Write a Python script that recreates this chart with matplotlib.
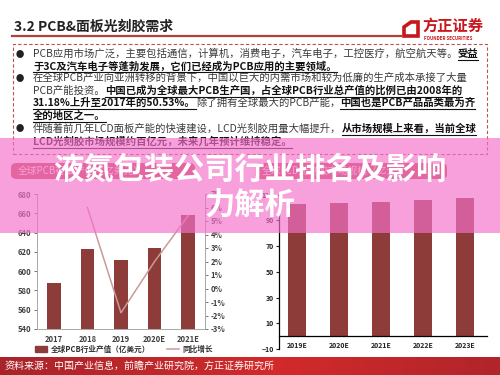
import numpy as np
import matplotlib
matplotlib.use('Agg')
import matplotlib.pyplot as plt
from matplotlib.patches import Rectangle, FancyBboxPatch, Polygon, Patch
from matplotlib.lines import Line2D

plt.rcParams['font.family'] = ['Noto Sans CJK SC', 'DejaVu Sans']

# data
pcb_years = ['2017', '2018', '2019', '2020E', '2021E']
pcb_value = [588, 623, 612, 624, 658]
pcb_growth = [np.nan, 6.0, -1.8, 2.0, 5.4]

lcd_years = ['2019E', '2020E', '2021E', '2022E', '2023E']
lcd_value = [103, 103.7, 104.5, 106, 107.5]

W, H = 500, 375
fig = plt.figure(figsize=(5, 3.75), dpi=100)
fig.patch.set_facecolor('white')
renderer = fig.canvas.get_renderer()

def fx(x):
    return x / W

def fy(y):
    return 1 - y / H

BAR = '#8e3c3a'
LINE = '#c99a98'

# header
fig.text(fx(14), fy(27), '3.2 PCB&面板光刻胶需求', fontsize=10, fontweight='bold',
         color='#222222', va='center')
fig.add_artist(Line2D([fx(12), fx(401)], [fy(35.5)] * 2, color='#b0413e', lw=1.6))
fig.add_artist(Polygon([(fx(411), fy(22)), (fx(418), fy(22)), (fx(418), fy(36)),
                        (fx(404), fy(36)), (fx(404), fy(27))], closed=True,
                       fill=False, edgecolor='#c8161d', lw=2.6))
fig.text(fx(422), fy(26), '方正证券', fontsize=11, fontweight='bold', color='#c8161d', va='center')
fig.text(fx(424), fy(38), 'FOUNDER SECURITIES', fontsize=3.2, fontweight='bold',
         color='#c8161d', va='center')

# dashed box
fig.add_artist(Rectangle((fx(13), fy(154)), fx(487) - fx(13), fy(44) - fy(154),
                         fill=False, edgecolor='#c0504d', lw=0.8, ls=(0, (3, 2))))

lines = [
    (54, True, [('PCB应用市场广泛，主要包括通信，计算机，消费电子，汽车电子，工控医疗，航空航天等。', False),
                ('受益', True)]),
    (66, False, [('于3C及汽车电子等蓬勃发展，它们已经成为PCB应用的主要领域。', True)]),
    (78, True, [('在全球PCB产业向亚洲转移的背景下，中国以巨大的内需市场和较为低廉的生产成本承接了大量', False)]),
    (90.5, False, [('PCB产能投资。', False),
                   ('中国已成为全球最大PCB生产国，占全球PCB行业总产值的比例已由2008年的', True)]),
    (103, False, [('31.18%上升至2017年的50.53%。', True), ('除了拥有全球最大的PCB产能，', False),
                  ('中国也是PCB产品品类最为齐', True)]),
    (115.5, False, [('全的地区之一。', True)]),
    (129, True, [('伴随着前几年LCD面板产能的快速建设，LCD光刻胶用量大幅提升，', False),
                 ('从市场规模上来看，当前全球', True)]),
    (141.5, False, [('LCD光刻胶市场规模约百亿元，未来几年预计维持稳定。', True)]),
]
for y, bullet, segs in lines:
    if bullet:
        fig.text(fx(20), fy(y), '●', fontsize=6, color='#222222', va='center', ha='center')
    x = 33
    for s, bold in segs:
        t = fig.text(fx(x), fy(y), s, fontsize=7.45, va='center', ha='left',
                     fontweight='bold' if bold else 'normal',
                     color='#111111' if bold else '#3a3a3a')
        w = t.get_window_extent(renderer).width
        if bold:
            fig.add_artist(Line2D([fx(x), fx(x + w)], [fy(y + 6)] * 2, color='#111111', lw=0.8))
        x += w

# chart header pills (behind banner)
fig.add_artist(FancyBboxPatch((fx(11), fy(179)), fx(195) - fx(11), fy(163) - fy(179),
                              boxstyle='round,pad=0,rounding_size=0.012',
                              facecolor='#c0504d', edgecolor='none'))
fig.text(fx(18), fy(171), '全球PCB行业产值（亿美元）', fontsize=7, color='white', va='center')
fig.add_artist(FancyBboxPatch((fx(255), fy(179)), fx(447) - fx(255), fy(163) - fy(179),
                              boxstyle='round,pad=0,rounding_size=0.012',
                              facecolor='#c0504d', edgecolor='none'))
fig.text(fx(262), fy(171), '全球LCD光刻胶市场规模（亿元）', fontsize=7, color='white', va='center')

# left chart
ax = fig.add_axes([fx(37), fy(329), fx(205) - fx(37), fy(194) - fy(329)])
xpos = np.arange(len(pcb_years))
ax.bar(xpos, pcb_value, width=0.4, color=BAR, label='全球PCB行业产值（亿美元）')
ax.set_ylim(540, 680)
ax.set_xlim(-0.5, 4.5)
ax.set_yticks(range(540, 681, 20))
ax.set_xticks(xpos)
ax.set_xticklabels(pcb_years)
ax.tick_params(axis='y', labelsize=5.5, colors='#404040', length=2, width=0.5, pad=2)
ax.tick_params(axis='x', labelsize=5.5, colors='#404040', length=0, pad=4)
for lab in ax.get_xticklabels() + ax.get_yticklabels():
    lab.set_fontweight('bold')
ax.spines['top'].set_visible(False)
for s in ['left', 'bottom', 'right']:
    ax.spines[s].set_color('#a8a8a8')
    ax.spines[s].set_linewidth(0.6)

ax2 = ax.twinx()
ax2.plot(xpos, pcb_growth, color=LINE, lw=1.1, label='同比增长')
ax2.set_ylim(-3, 7)
ax2.set_yticks(range(-3, 8))
ax2.set_yticklabels(['%d%%' % v for v in range(-3, 8)])
ax2.tick_params(axis='y', labelsize=5.5, colors='#404040', length=2, width=0.5, pad=2)
for lab in ax2.get_yticklabels():
    lab.set_fontweight('bold')
ax2.spines['top'].set_visible(False)
for s in ['left', 'bottom', 'right']:
    ax2.spines[s].set_color('#a8a8a8')
    ax2.spines[s].set_linewidth(0.6)

h1 = [Patch(color=BAR), Line2D([0], [0], color=LINE, lw=1.1)]
leg = fig.legend(h1, ['全球PCB行业产值（亿美元）', '同比增长'], ncol=2, loc='center',
                 bbox_to_anchor=(fx(124), fy(349)), frameon=False, fontsize=5.5,
                 handlelength=1.6, handleheight=0.7, columnspacing=2.2, handletextpad=0.5)
for t in leg.get_texts():
    t.set_fontweight('bold')
    t.set_color('#333333')

# right chart
bx = fig.add_axes([fx(279), fy(349), fx(487) - fx(279), fy(194.6) - fy(349)])
xpos2 = np.arange(len(lcd_years))
bx.bar(xpos2, lcd_value, width=0.43, color=BAR)
bx.set_ylim(-10, 110)
bx.set_xlim(-0.43, 4.52)
bx.set_yticks(range(-10, 111, 20))
bx.set_xticks(xpos2)
bx.set_xticklabels(lcd_years)
bx.spines['bottom'].set_position(('data', 0))
bx.spines['top'].set_visible(False)
bx.spines['right'].set_visible(False)
bx.spines['left'].set_linewidth(0.9)
bx.spines['bottom'].set_linewidth(0.9)
bx.tick_params(axis='y', labelsize=5, colors='#222222', length=2.5, width=0.8, pad=1)
bx.tick_params(axis='x', labelsize=5, colors='#222222', length=0, pad=4)
for lab in bx.get_xticklabels() + bx.get_yticklabels():
    lab.set_fontweight('bold')

# footer
fax = fig.add_axes([0, 0, 1, fy(357)])
grad = np.linspace(0, 1, 256)
prof = 1 - 0.5 * np.abs(grad - 0.55) * 2
fax.imshow(prof[None, :], aspect='auto', cmap=matplotlib.colors.LinearSegmentedColormap.from_list(
    'r', ['#a8242a', '#d32a2a']), extent=[0, 1, 0, 1])
fax.set_axis_off()
fig.text(fx(5), fy(366), '资料来源：中国产业信息，前瞻产业研究院，方正证券研究所', fontsize=7.2,
         color='white', va='center', zorder=12)

# banner overlay
fig.add_artist(Rectangle((0, fy(233)), 1, fy(138) - fy(233), facecolor='#f671cb',
                         alpha=0.67, edgecolor='none', zorder=10))
fig.text(0.5, fy(170), '液氮包装公司行业排名及影响', fontsize=21.8, fontweight='bold',
         color='white', ha='center', va='center', zorder=11)
fig.text(0.5, fy(206), '力解析', fontsize=21.8, fontweight='bold',
         color='white', ha='center', va='center', zorder=11)

fig.savefig('out.png', dpi=100)
